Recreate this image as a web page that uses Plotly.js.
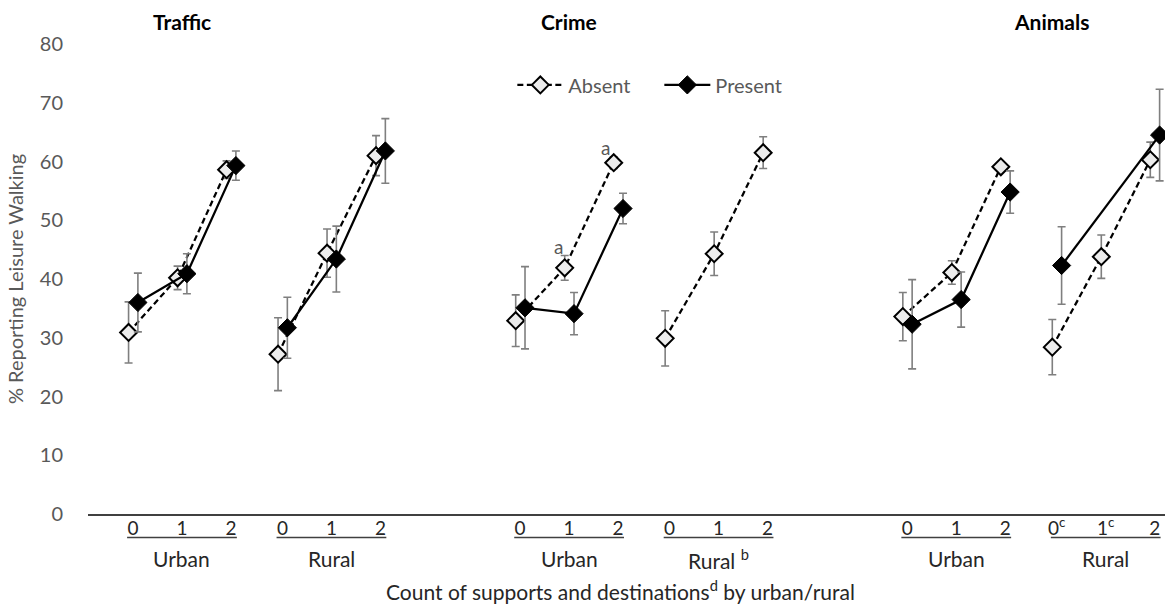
<!DOCTYPE html>
<html>
<head>
<meta charset="utf-8">
<script src="https://cdn.plot.ly/plotly-3.0.1.min.js"></script>
<style>html,body{margin:0;padding:0;background:#fff;}#chart{width:1165px;height:608px;}</style>
</head>
<body>
<div id="chart"></div>
<script>
// ---- Data ----
const panels = ['Traffic', 'Crime', 'Animals'];
const areas = ['Urban', 'Rural'];
const countLabels = ['0', '1', '2'];
const animalsRuralTickLabels = ['0<sup>c</sup>', '1<sup>c</sup>', '2'];
const crimeAreaLabels = ['Urban', 'Rural <sup>b</sup>'];
const seriesNames = ['Absent', 'Present'];

const trafficUrbanAbsent = [30.9, 40.2, 58.6];
const trafficUrbanAbsentErr = [5.2, 2.0, 1.5];
const trafficUrbanPresent = [36.0, 40.9, 59.3];
const trafficUrbanPresentErr = [5.0, 3.4, 2.5];
const trafficRuralAbsent = [27.2, 44.4, 61.0];
const trafficRuralAbsentErr = [6.2, 4.1, 3.4];
const trafficRuralPresent = [31.7, 43.4, 61.8];
const trafficRuralPresentErr = [5.2, 5.6, 5.5];

const crimeUrbanAbsent = [32.9, 41.9, 59.8];
const crimeUrbanAbsentErr = [4.4, 2.1, 1.0];
const crimeUrbanPresent = [35.1, 34.1, 52.0];
const crimeUrbanPresentErr = [7.0, 3.6, 2.6];
const crimeRuralAbsent = [29.9, 44.3, 61.5];
const crimeRuralAbsentErr = [4.7, 3.7, 2.7];
const crimeRuralPresent = [null, null, null];
const crimeRuralPresentErr = [null, null, null];

const animalsUrbanAbsent = [33.6, 41.1, 59.1];
const animalsUrbanAbsentErr = [4.1, 2.0, 0.8];
const animalsUrbanPresent = [32.3, 36.5, 54.8];
const animalsUrbanPresentErr = [7.6, 4.7, 3.6];
const animalsRuralAbsent = [28.4, 43.8, 60.3];
const animalsRuralAbsentErr = [4.7, 3.7, 3.0];
const animalsRuralPresent = [42.3, null, 64.5];
const animalsRuralPresentErr = [6.6, null, 7.8];

// ---- Layout helpers ----
const panelOffsets = [0, 7.9, 15.8];
const areaOffsets = [0, 3.05];
const seriesShift = [-0.09, 0.1];
function pos(p, a, c) { return panelOffsets[p] + areaOffsets[a] + c; }

const table = [
  [0, 0, trafficUrbanAbsent, trafficUrbanAbsentErr, trafficUrbanPresent, trafficUrbanPresentErr],
  [0, 1, trafficRuralAbsent, trafficRuralAbsentErr, trafficRuralPresent, trafficRuralPresentErr],
  [1, 0, crimeUrbanAbsent, crimeUrbanAbsentErr, crimeUrbanPresent, crimeUrbanPresentErr],
  [1, 1, crimeRuralAbsent, crimeRuralAbsentErr, crimeRuralPresent, crimeRuralPresentErr],
  [2, 0, animalsUrbanAbsent, animalsUrbanAbsentErr, animalsUrbanPresent, animalsUrbanPresentErr],
  [2, 1, animalsRuralAbsent, animalsRuralAbsentErr, animalsRuralPresent, animalsRuralPresentErr]
];

const styles = [
  {line: {color: '#000', width: 2.25, dash: '6px,3.5px'},
   marker: {symbol: 'diamond', size: 13, color: '#ececec', line: {color: '#000', width: 2}}},
  {line: {color: '#000', width: 2.25},
   marker: {symbol: 'diamond', size: 14, color: '#000', line: {color: '#000', width: 1}}}
];

const traces = [];
for (let s = 0; s < 2; s++) {
  let first = true;
  table.forEach(row => {
    const [p, a] = row;
    const vals = row[2 + s * 2], errs = row[3 + s * 2];
    const xs = [], ys = [], es = [];
    vals.forEach((v, c) => {
      if (v !== null) { xs.push(pos(p, a, c) + seriesShift[s]); ys.push(v); es.push(errs[c]); }
    });
    if (!xs.length) return;
    traces.push({
      type: 'scatter', mode: 'lines+markers', name: seriesNames[s],
      legendgroup: seriesNames[s], showlegend: first,
      x: xs, y: ys,
      line: styles[s].line, marker: styles[s].marker,
      error_y: {type: 'data', array: es, visible: true, color: '#7f7f7f', thickness: 1.6, width: 4},
      hoverinfo: 'y'
    });
    first = false;
  });
}

// ticks
const tickvals = [], ticktext = [];
panels.forEach((pn, p) => areas.forEach((ar, a) => countLabels.forEach((cl, c) => {
  tickvals.push(pos(p, a, c));
  ticktext.push(p === 2 && a === 1 ? animalsRuralTickLabels[c] : cl);
})));

const xmin = -0.918, xmax = 21.06;
const font = 'Lato, "Open Sans", sans-serif';

const shapes = [];
const annotations = [];
panels.forEach((pn, p) => areas.forEach((ar, a) => {
  shapes.push({type: 'line', xref: 'x', yref: 'paper',
    x0: pos(p, a, 0) - 0.12, x1: pos(p, a, 2) + 0.12, y0: -0.05, y1: -0.05,
    line: {color: '#404040', width: 1.5}});
  annotations.push({xref: 'x', yref: 'paper', x: pos(p, a, 1), y: -0.095,
    text: p === 1 ? crimeAreaLabels[a] : ar, showarrow: false,
    font: {family: font, size: 21, color: '#262626'}, xanchor: 'center', yanchor: 'middle'});
}));

const titleX = [pos(0, 0, 1), pos(1, 0, 1), pos(2, 0, 2) + 0.95];
panels.forEach((pn, p) => {
  annotations.push({xref: 'x', yref: 'paper', x: titleX[p], y: 1.047,
    text: '<b>' + pn + '</b>', showarrow: false,
    font: {family: font, size: 21, color: '#000'}, xanchor: 'center', yanchor: 'middle'});
});

annotations.push({xref: 'x', yref: 'y', x: pos(1, 0, 1) + seriesShift[0], y: crimeUrbanAbsent[1],
  xshift: -6, yshift: 21, text: 'a', showarrow: false, font: {family: font, size: 19, color: '#595959'}});
annotations.push({xref: 'x', yref: 'y', x: pos(1, 0, 2) + seriesShift[0], y: crimeUrbanAbsent[2],
  xshift: -8, yshift: 15, text: 'a', showarrow: false, font: {family: font, size: 19, color: '#595959'}});

annotations.push({xref: 'paper', yref: 'paper', x: 0.494, y: -0.162,
  text: 'Count of supports and destinations<sup>d</sup> by urban/rural', showarrow: false,
  font: {family: font, size: 21, color: '#262626'}, xanchor: 'center', yanchor: 'middle'});

const layout = {
  width: 1165, height: 608,
  margin: {l: 88, r: 0, t: 44, b: 94},
  paper_bgcolor: '#fff', plot_bgcolor: '#fff',
  font: {family: font, color: '#595959'},
  showlegend: true,
  legend: {orientation: 'h', x: 0.394, y: 0.913, xanchor: 'left', yanchor: 'middle',
    font: {family: font, size: 20, color: '#595959'}, itemwidth: 46,
    entrywidth: 86, entrywidthmode: 'pixels', bgcolor: 'rgba(0,0,0,0)'},
  xaxis: {range: [xmin, xmax], showgrid: false, zeroline: false, showline: true,
    linecolor: '#404040', linewidth: 1.5, ticks: '', tickvals: tickvals, ticktext: ticktext,
    ticklabelstandoff: -3,
    tickfont: {family: font, size: 19, color: '#262626'}, fixedrange: true},
  yaxis: {range: [0, 80], dtick: 10, tick0: 0, showgrid: false, zeroline: false, showline: false,
    ticks: '', ticklabelstandoff: 24,
    tickfont: {family: font, size: 20, color: '#595959'},
    title: {text: '% Reporting Leisure Walking', font: {family: font, size: 20, color: '#595959'}, standoff: 10},
    fixedrange: true},
  shapes: shapes,
  annotations: annotations
};

Plotly.newPlot('chart', traces, layout, {displayModeBar: false, staticPlot: true});
</script>
</body>
</html>
